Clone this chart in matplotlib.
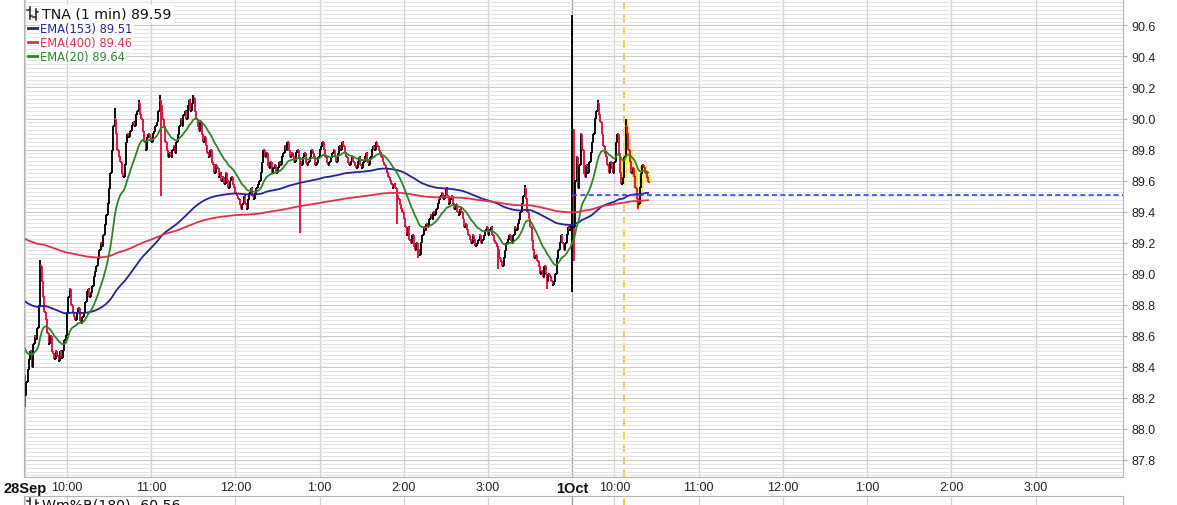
import numpy as np
import matplotlib.pyplot as plt
from matplotlib.collections import LineCollection
from matplotlib.ticker import MultipleLocator, FormatStrFormatter
from matplotlib.lines import Line2D

# ---- data (1-min closes) ----
day1_close = [
    88.22, 88.3, 88.38, 88.45, 88.5, 88.4, 88.55, 88.6, 88.58, 88.65, 88.8, 89.05,
    88.95, 88.85, 88.75, 88.7, 88.62, 88.55, 88.6, 88.5, 88.48, 88.45, 88.5,
    88.47, 88.44, 88.5, 88.46, 88.5, 88.57, 88.6,
    88.75, 88.85, 88.9, 88.8, 88.75, 88.72, 88.7, 88.75,
    88.78, 88.7, 88.68, 88.72, 88.75, 88.82, 88.88, 88.9, 88.85, 88.88, 88.92,
    88.98, 89.02, 89.05, 89.1, 89.15, 89.2, 89.18, 89.25, 89.32, 89.38, 89.45,
    89.55, 89.65, 89.8, 89.95, 90.0, 89.9, 89.8, 89.75, 89.72,
    89.65, 89.62, 89.7, 89.85, 89.9, 89.88, 89.92, 89.95, 89.98, 89.95, 90.02,
    90.05, 90.1, 90.02, 90.0, 89.92, 89.85, 89.8, 89.88,
    89.9, 89.88, 89.85, 89.9, 89.92, 89.95, 89.98, 90.05, 90.12, 90.08, 90.0, 89.95,
    89.85, 89.8, 89.75, 89.78, 89.75, 89.8, 89.82, 89.78, 89.85,
    89.9, 89.95, 90.0, 89.95, 90.02, 90.05, 90.0, 90.08, 90.12, 90.05, 90.1, 90.13, 90.05,
    90.0, 89.95, 89.92, 89.98, 89.9, 89.85, 89.88, 89.82,
    89.78, 89.75, 89.8, 89.72, 89.7, 89.65, 89.7, 89.68, 89.62, 89.65, 89.6,
    89.62, 89.58, 89.65, 89.6, 89.55, 89.6, 89.62, 89.58, 89.55, 89.52, 89.5,
    89.48, 89.45, 89.42, 89.45, 89.5, 89.45, 89.42, 89.48, 89.52, 89.55,
    89.5, 89.48, 89.52, 89.55, 89.58, 89.6, 89.65,
    89.72, 89.8, 89.75, 89.78, 89.7, 89.68, 89.72, 89.65,
    89.68, 89.7, 89.65, 89.68, 89.72, 89.7, 89.75, 89.78, 89.82, 89.8,
    89.85, 89.8, 89.75, 89.78,
    89.75, 89.72, 89.78, 89.8, 89.75, 89.72, 89.7, 89.75, 89.78, 89.72, 89.7,
    89.72, 89.75, 89.8, 89.78, 89.75, 89.7, 89.72, 89.75, 89.8, 89.82, 89.85, 89.8, 89.75, 89.72,
    89.7, 89.72, 89.75, 89.78, 89.8, 89.75, 89.72, 89.78, 89.82, 89.8, 89.85, 89.82,
    89.78, 89.75, 89.72, 89.7, 89.72, 89.75,
    89.72, 89.7, 89.68, 89.72, 89.75, 89.7, 89.68, 89.72, 89.75, 89.78, 89.72, 89.7, 89.75, 89.8,
    89.82, 89.8, 89.85, 89.82, 89.8, 89.78, 89.75, 89.72, 89.7,
    89.68, 89.65, 89.62, 89.6, 89.58, 89.55, 89.58, 89.55, 89.5, 89.48, 89.45, 89.42,
    89.4, 89.35, 89.3, 89.25, 89.3, 89.22, 89.2, 89.25, 89.18, 89.15, 89.2,
    89.15, 89.12, 89.2, 89.25, 89.3, 89.28, 89.32,
    89.3, 89.35, 89.38, 89.35, 89.4, 89.38, 89.42, 89.45,
    89.48, 89.5, 89.52, 89.48, 89.5, 89.55, 89.5, 89.45, 89.48, 89.5, 89.45,
    89.42, 89.45, 89.4, 89.38, 89.42, 89.4, 89.35, 89.3, 89.32, 89.28,
    89.25, 89.22, 89.2, 89.25, 89.22, 89.18, 89.2, 89.22, 89.25, 89.2, 89.22,
    89.25, 89.28, 89.3, 89.25, 89.28, 89.3, 89.25, 89.22, 89.2, 89.18,
    89.15, 89.1, 89.08, 89.05, 89.1,
    89.15, 89.2, 89.22, 89.25, 89.22, 89.2, 89.25, 89.3, 89.28, 89.32,
    89.35, 89.4, 89.45, 89.5, 89.55, 89.48, 89.4,
    89.35, 89.3, 89.22, 89.15, 89.1, 89.12, 89.08,
    89.05, 89.0, 89.02, 88.98, 89.05, 89.0, 88.95, 89.0, 88.98, 88.95, 88.93, 88.95,
    89.0, 89.1, 89.15, 89.2, 89.25, 89.2, 89.15, 89.2,
    89.25, 89.3, 89.28, 89.32,
]
day2_close = [
    89.5, 89.3,
    89.6, 89.75, 89.55, 89.7, 89.9, 89.8, 89.65,
    89.62, 89.7, 89.65, 89.72, 89.78,
    89.85, 89.9, 90.0, 90.05, 90.1,
    90.02, 89.98, 89.9, 89.82, 89.78, 89.75,
    89.7, 89.65, 89.72, 89.68, 89.65,
    89.72, 89.85, 89.9, 89.78, 89.65, 89.58, 89.62,
    89.75, 89.95, 89.9, 89.8, 89.72, 89.65, 89.68,
    89.62, 89.55, 89.48, 89.45, 89.55, 89.65, 89.7,
    89.68, 89.65, 89.62, 89.59,
]
first_open = 88.35
day2_start = 390          # minutes after 9:30 on 28 Sep

# bar extremes that stick out past open/close
hi_min = [11, 64, 81, 96, 120, 356, 390, 391, 408, 428]
hi_val = [89.09, 90.07, 90.12, 90.15, 90.15, 89.57, 90.67, 89.93, 90.12, 90.0]
lo_min = [0, 97, 196, 265, 280, 337, 372, 390, 391, 437]
lo_val = [88.14, 89.5, 89.26, 89.32, 89.1, 89.03, 88.9, 88.88, 89.08, 89.42]

ema_periods = [153, 400, 20]
ema_seed = [88.83, 89.23, 88.55]
ema_last = ['89.51', '89.46', '89.64']
ema_colors = ['#23239a', '#e0304c', '#2a862a']
last_price = '89.59'
ref_level = 89.51
now_min = 426.6

tick_min = [0, 30, 90, 150, 210, 270, 330, 390, 420, 480, 540, 600, 660, 720]
tick_lab = ['28Sep', '10:00', '11:00', '12:00', '1:00', '2:00', '3:00',
            '1Oct', '10:00', '11:00', '12:00', '1:00', '2:00', '3:00']
day_labels = ['28Sep', '1Oct']

# ---- bars ----
close = np.array(day1_close + day2_close)
t = np.arange(len(close))
t[len(day1_close):] = day2_start + np.arange(len(day2_close))
opn = np.concatenate([[first_open], close[:-1]])
high = np.maximum(opn, close)
low = np.minimum(opn, close)
for m, v in zip(hi_min, hi_val):
    high[t == m] = v
for m, v in zip(lo_min, lo_val):
    low[t == m] = v
up = close >= opn

def ema(vals, n, seed):
    a = 2.0 / (n + 1)
    out = []
    e = seed
    for v in vals:
        e = e + a * (v - e)
        out.append(e)
    return np.array(out)

W, H = 1177, 506
fig = plt.figure(figsize=(W / 100, H / 100), dpi=100)
fig.patch.set_facecolor('white')

def box(x0, y0, x1, y1):
    return [x0 / W, 1 - y1 / H, (x1 - x0) / W, (y1 - y0) / H]

def fx(x):
    return x / W

def fy(y):
    return 1 - y / H

ax = fig.add_axes(box(24, 0, 1123, 478))
ax2 = fig.add_axes(box(24, 497, 1123, 560))
xmax = 782.3

for a in (ax, ax2):
    a.set_xlim(-0.6, xmax)
    for s in a.spines.values():
        s.set_color('#b4b4b4')
        s.set_linewidth(0.8)
    for m in tick_min:
        a.axvline(m, color='#9a9a9a' if m == day2_start else '#d2d2d2', lw=0.9, zorder=0.5)
    a.axvline(now_min, color='#f5c21b', lw=1.3, ls=(0, (4, 3)), zorder=0.6)

ax.set_ylim(87.69, 90.77)
ax.yaxis.set_major_locator(MultipleLocator(0.2))
ax.yaxis.set_minor_locator(MultipleLocator(0.025))
ax.yaxis.set_major_formatter(FormatStrFormatter('%.1f'))
ax.grid(axis='y', which='major', color='#cbcbcb', lw=0.8, zorder=0)
ax.grid(axis='y', which='minor', color='#e4e4e4', lw=0.8, zorder=0)
ax.yaxis.tick_right()
ax.tick_params(axis='y', which='major', length=3, color='#b4b4b4', labelsize=9,
               labelcolor='#222222', pad=3)
ax.tick_params(axis='y', which='minor', length=0)
for lab in ax.get_yticklabels():
    lab.set_fontfamily('Liberation Sans')

ax.set_xticks(tick_min)
ax.set_xticklabels(tick_lab)
ax.tick_params(axis='x', length=0, pad=3, labelsize=9, labelcolor='#222222')
for lab in ax.get_xticklabels():
    lab.set_fontfamily('Liberation Sans')
    if lab.get_text() in day_labels:
        lab.set_fontweight('bold')
        lab.set_fontsize(10.5)
        lab.set_color('#111111')

ax2.set_yticks([])
ax2.set_xticks([])

# blue dashed reference level
ax.hlines(ref_level, day2_start, xmax, colors='#3142ee', lw=1.2, linestyles=(0, (3, 2)), zorder=3)

# highlight for the newest bars
hl = t >= 427
segs_hl = [[(x, l), (x, h)] for x, l, h in zip(t[hl], low[hl], high[hl])]
ax.add_collection(LineCollection(segs_hl, colors='#ffe62e', linewidths=3.8, zorder=1.5))

# OHLC bars
tk = 1.2
segs, cols = [], []
for x, o, h, l, c, u in zip(t, opn, high, low, close, up):
    col = '#000000' if u else '#e0103c'
    segs += [[(x, l), (x, h)], [(x - tk, o), (x, o)], [(x, c), (x + tk, c)]]
    cols += [col] * 3
ax.add_collection(LineCollection(segs, colors=cols, linewidths=1.35, zorder=2))

# EMAs
for n, seed, col in zip(ema_periods, ema_seed, ema_colors):
    ax.plot(t, ema(close, n, seed), color=col, lw=1.3, zorder=2.5)

# legend block, top left
def ohlc_icon(x0, y0):
    for dx, top, bot, yo, yc in [(2.5, 0, 12, 3, 9), (8.5, 2, 13, 10, 5)]:
        xx = x0 + dx
        fig.add_artist(Line2D([fx(xx), fx(xx)], [fy(y0 + top), fy(y0 + bot)], color='#222', lw=1.1))
        fig.add_artist(Line2D([fx(xx - 2.5), fx(xx)], [fy(y0 + yo), fy(y0 + yo)], color='#222', lw=1.1))
        fig.add_artist(Line2D([fx(xx), fx(xx + 2.5)], [fy(y0 + yc), fy(y0 + yc)], color='#222', lw=1.1))

fig.text(fx(42), fy(15), 'TNA (1 min) ' + last_price, fontsize=10.2, color='#111111',
         va='center', ha='left', family='DejaVu Sans',
         bbox=dict(facecolor='white', edgecolor='none', pad=1.5))
ohlc_icon(27, 8)
for i, (n, val, col) in enumerate(zip(ema_periods, ema_last, ema_colors)):
    y = 29 + 14 * i
    fig.text(fx(40), fy(y), 'EMA(%d) %s' % (n, val), fontsize=8.3, color=col,
             va='center', ha='left', family='DejaVu Sans',
             bbox=dict(facecolor='white', edgecolor='none', pad=0.8))
    fig.add_artist(Line2D([fx(28), fx(39)], [fy(y), fy(y)], color=col, lw=2.0))

# lower panel title (cut by the image edge, as in the original)
ohlc_icon(27, 499)
fig.text(fx(42), fy(499), 'Wm%R(180) -60.56', fontsize=10.2, color='#111111',
         va='top', ha='left', family='DejaVu Sans')

fig.savefig('out.png', dpi=100, facecolor='white')
